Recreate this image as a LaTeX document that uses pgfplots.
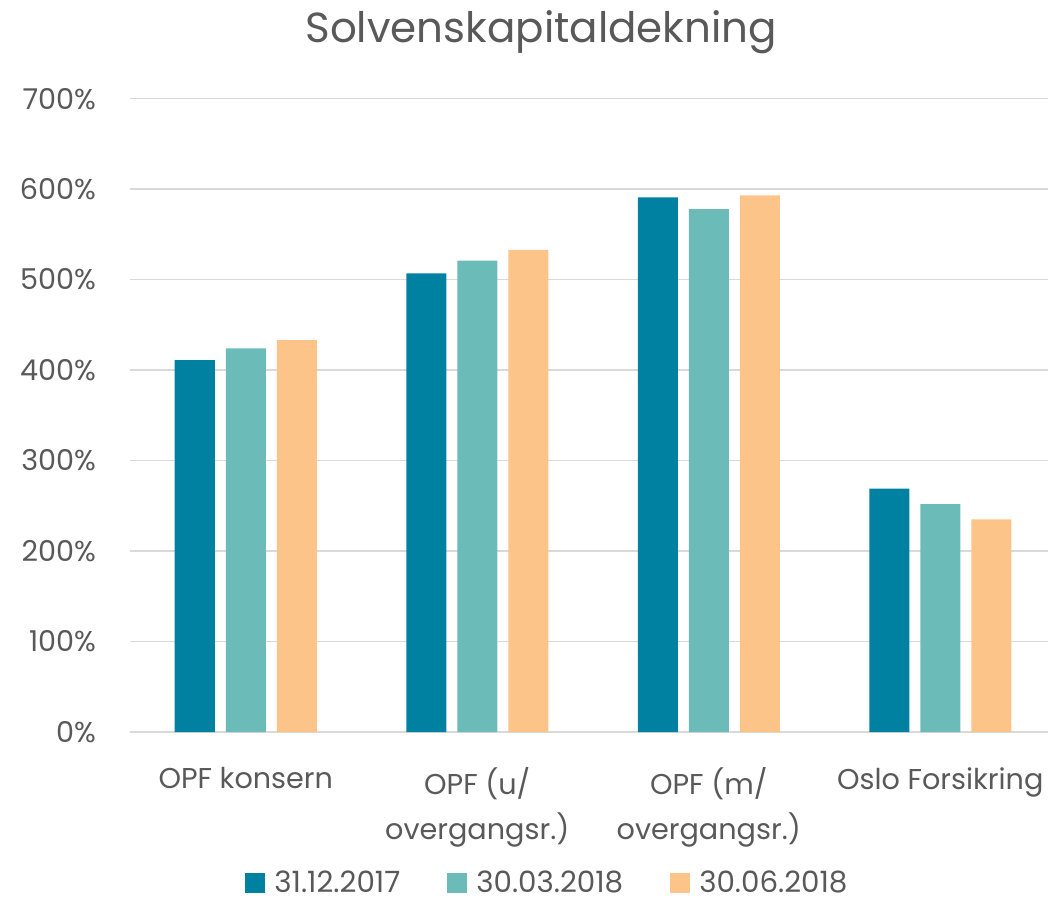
\documentclass[border=0pt]{standalone}
\usepackage{pgfplots}
\pgfplotsset{compat=1.18}
\usepackage{fontspec}
\setmainfont{Poppins}
\definecolor{txt}{HTML}{595959}
\definecolor{gridc}{HTML}{D9D9D9}
\definecolor{cA}{HTML}{0081A1}
\definecolor{cB}{HTML}{6BBBB8}
\definecolor{cC}{HTML}{FCC488}
\begin{document}
\begin{tikzpicture}
\useasboundingbox (-97.5pt,-129.75pt) rectangle (688.5pt,549pt);
\begin{axis}[
  at={(0pt,0pt)}, anchor=south west,
  scale only axis,
  width=694.5pt, height=475pt,
  xmin=-0.5, xmax=3.5,
  ymin=0, ymax=700,
  ybar, bar width=30pt,
  xtick={0,1,2,3},
  xticklabels={{OPF konsern},{OPF (u/\\overgangsr.)},{OPF (m/\\overgangsr.)},{Oslo Forsikring}},
  ytick={0,100,...,700},
  yticklabel={\pgfmathprintnumber{\tick}\%},
  /pgf/number format/assume math mode=true,
  ticklabel style={font=\fontsize{21.5}{34}\selectfont, text=txt},
  xticklabel style={align=center, anchor=north, yshift=-23pt},
  yticklabel style={xshift=-22pt},
  major tick length=0pt,
  axis line style={draw=none},
  ymajorgrids, grid style={gridc, line width=1.2pt},
  extra y ticks={0}, extra y tick labels={},
  extra y tick style={grid style={gridc, line width=1.5pt}},
  legend style={draw=none, at={(0.451,-0.238)}, anchor=center, legend columns=-1,
    font=\fontsize{22}{25}\selectfont, text=txt, inner sep=1pt,
    /tikz/every even column/.append style={column sep=33pt}},
  legend image code/.code={\fill[#1] (0pt,-7.5pt) rectangle (15pt,7.5pt); \path (20pt,0pt);},
  clip=false,
]
\addplot[fill=cA, draw=none, bar shift=-38.25pt] coordinates {(0,411) (1,507) (2,591) (3,269)};
\addplot[fill=cB, draw=none, bar shift=0pt] coordinates {(0,424) (1,521) (2,578) (3,252)};
\addplot[fill=cC, draw=none, bar shift=38.25pt] coordinates {(0,433) (1,533) (2,593) (3,235)};
\legend{31.12.2017,30.03.2018,30.06.2018}
\node[font=\fontsize{31.5}{40}\selectfont, text=txt] at (axis description cs:0.444,1.105) {Solvenskapitaldekning};
\end{axis}
\end{tikzpicture}
\end{document}
